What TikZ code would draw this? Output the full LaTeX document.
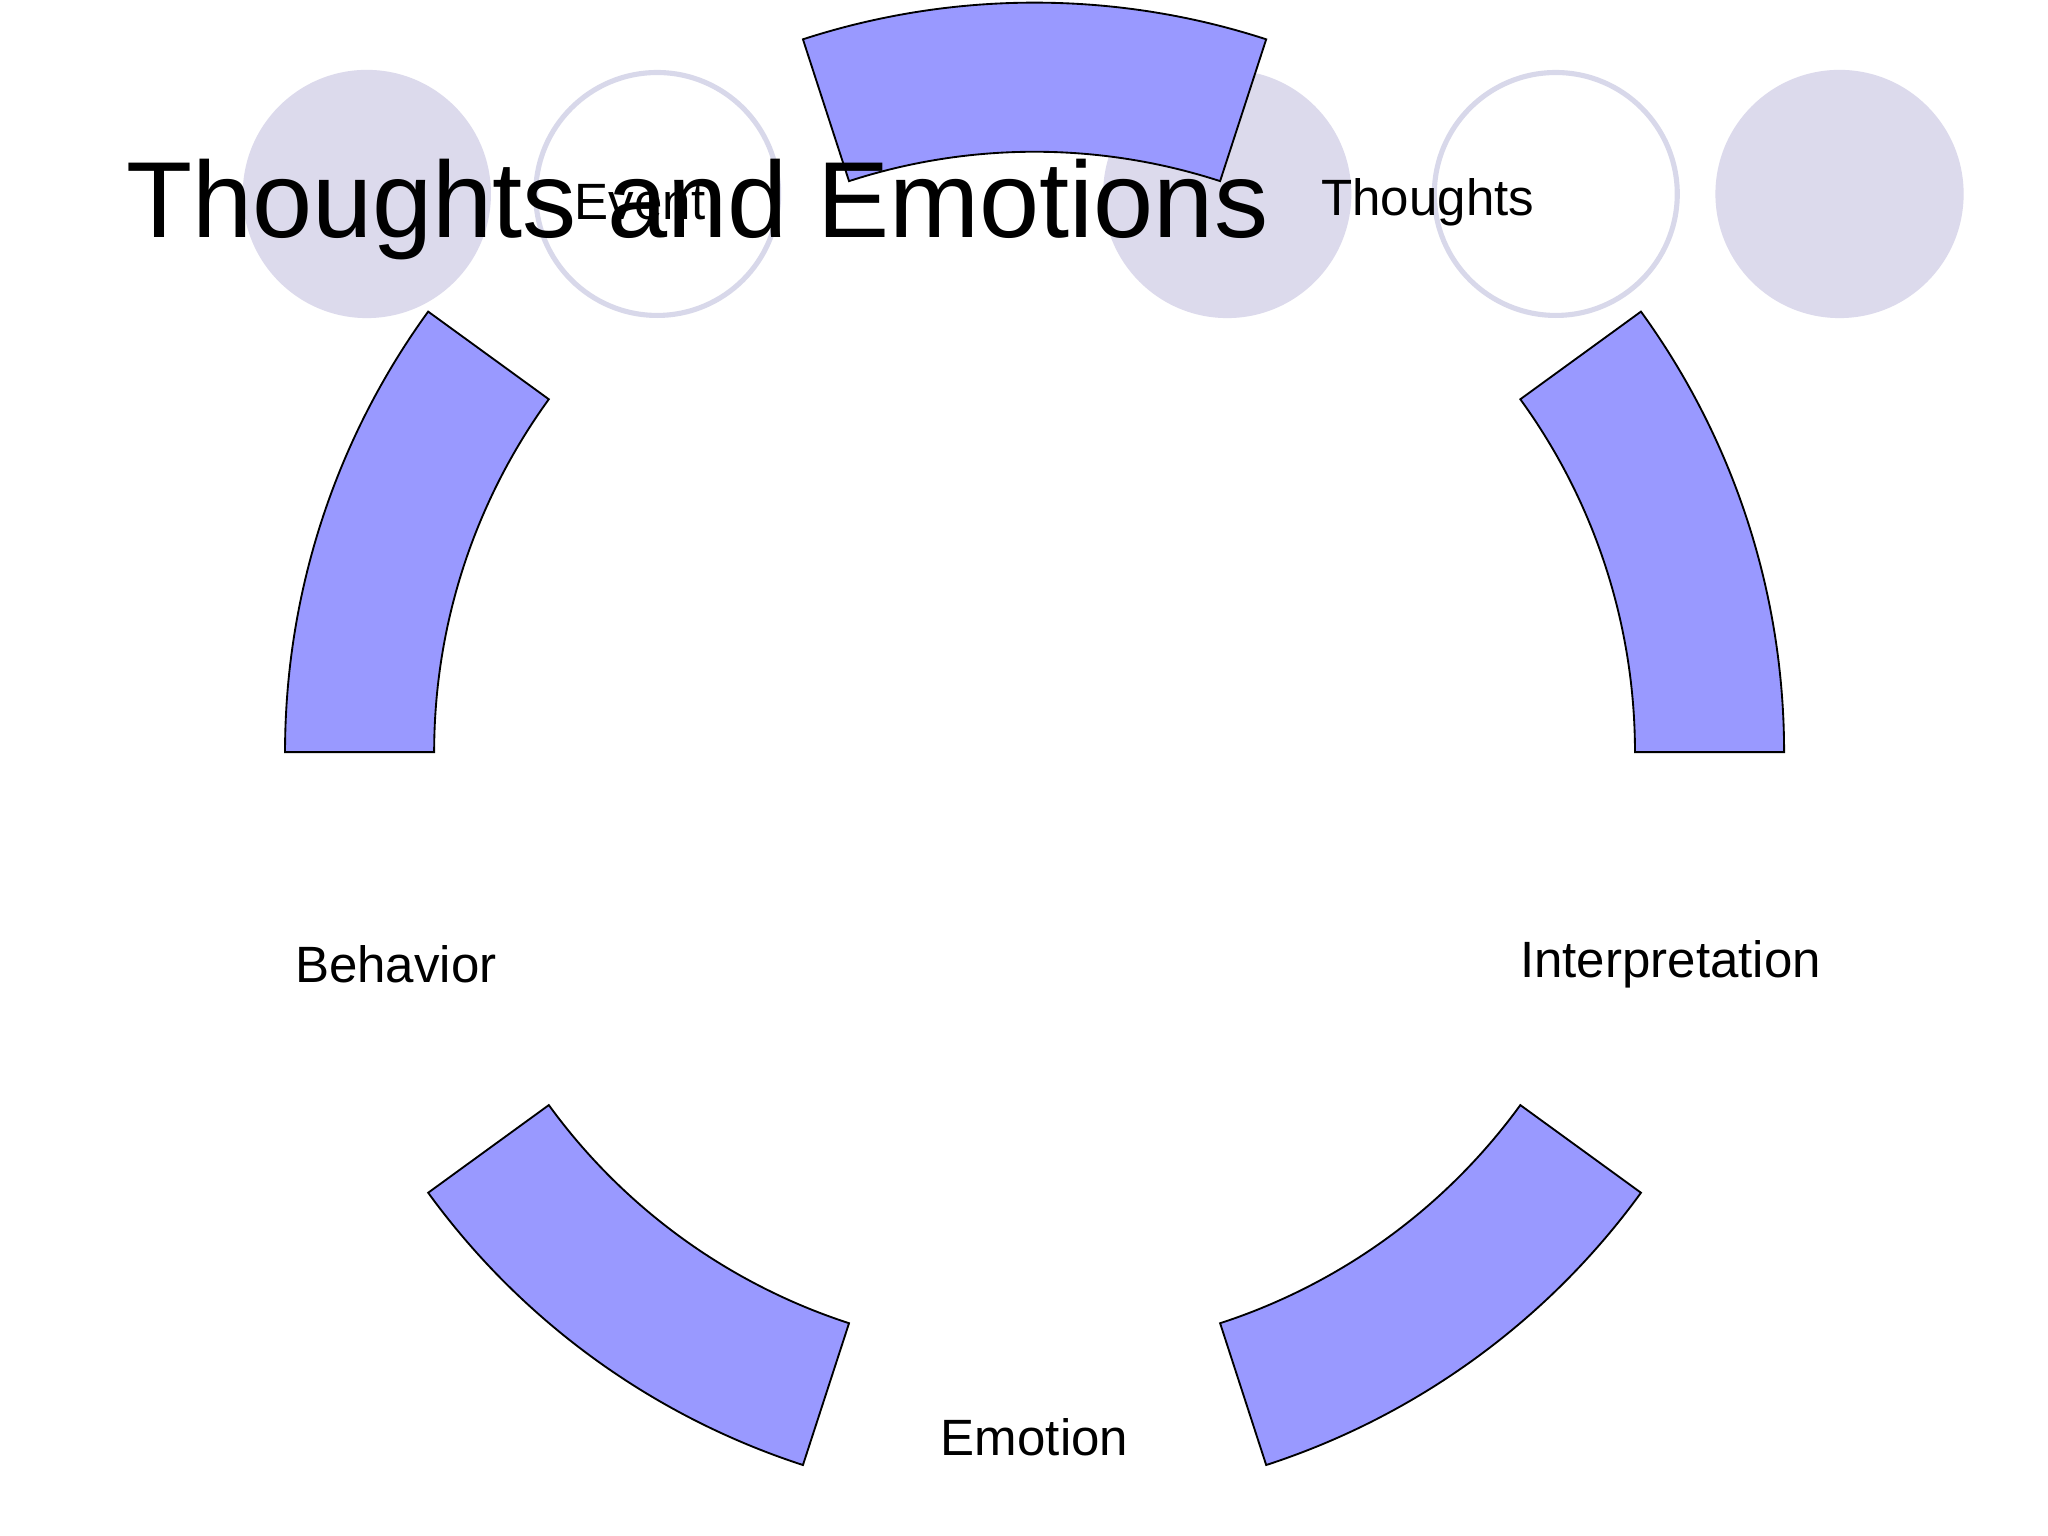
\documentclass[tikz,border=0pt]{standalone}
\usepackage{fontspec}
\setmainfont{Liberation Sans}
\usetikzlibrary{calc}
\begin{document}
\begin{tikzpicture}[x=0.01cm,y=-0.01cm,
  seg/.style={fill=segblue,draw=black,line width=0.4pt},
  dotf/.style={circle,fill=lav,minimum size=1.88cm,inner sep=0pt},
  doto/.style={circle,draw=lavline,line width=1.1pt,minimum size=1.84cm,inner sep=0pt},
  lab/.style={font=\fontsize{11}{13}\selectfont}]
\definecolor{segblue}{HTML}{9999FF}
\definecolor{lav}{HTML}{DCDAEC}
\definecolor{lavline}{HTML}{D8D8EA}
\useasboundingbox[fill=white] (0,0) rectangle (1552,1164);
\node[dotf] (c1) at (278,147) {};
\node[doto] (c2) at (498,147) {};
\node[dotf] (c3) at (930,147) {};
\node[doto] (c4) at (1179,147) {};
\node[dotf] (c5) at (1394,147) {};
\coordinate (o) at (784,570);
\foreach \a in {72,144,216,288,0}{
  \draw[seg] ($(o)+(\a:568 and -568)$) arc[start angle=\a,end angle=\a+36,x radius=568,y radius=-568]
    -- ($(o)+(\a+36:455 and -455)$) arc[start angle=\a+36,end angle=\a,x radius=455,y radius=-455] -- cycle;
}
\node[lab] (ev) at (485,153) {Event};
\node[lab] (th) at (1082,153) {Thoughts};
\node[lab] (in) at (1266,731) {Interpretation};
\node[lab] (em) at (784,1089) {Emotion};
\node[lab] (be) at (300,731) {Behavior};
\node[anchor=base west,inner sep=0pt,font=\fontsize{23.3}{28}\selectfont] (title) at (95,180) {Thoughts and Emotions};
\end{tikzpicture}
\end{document}
